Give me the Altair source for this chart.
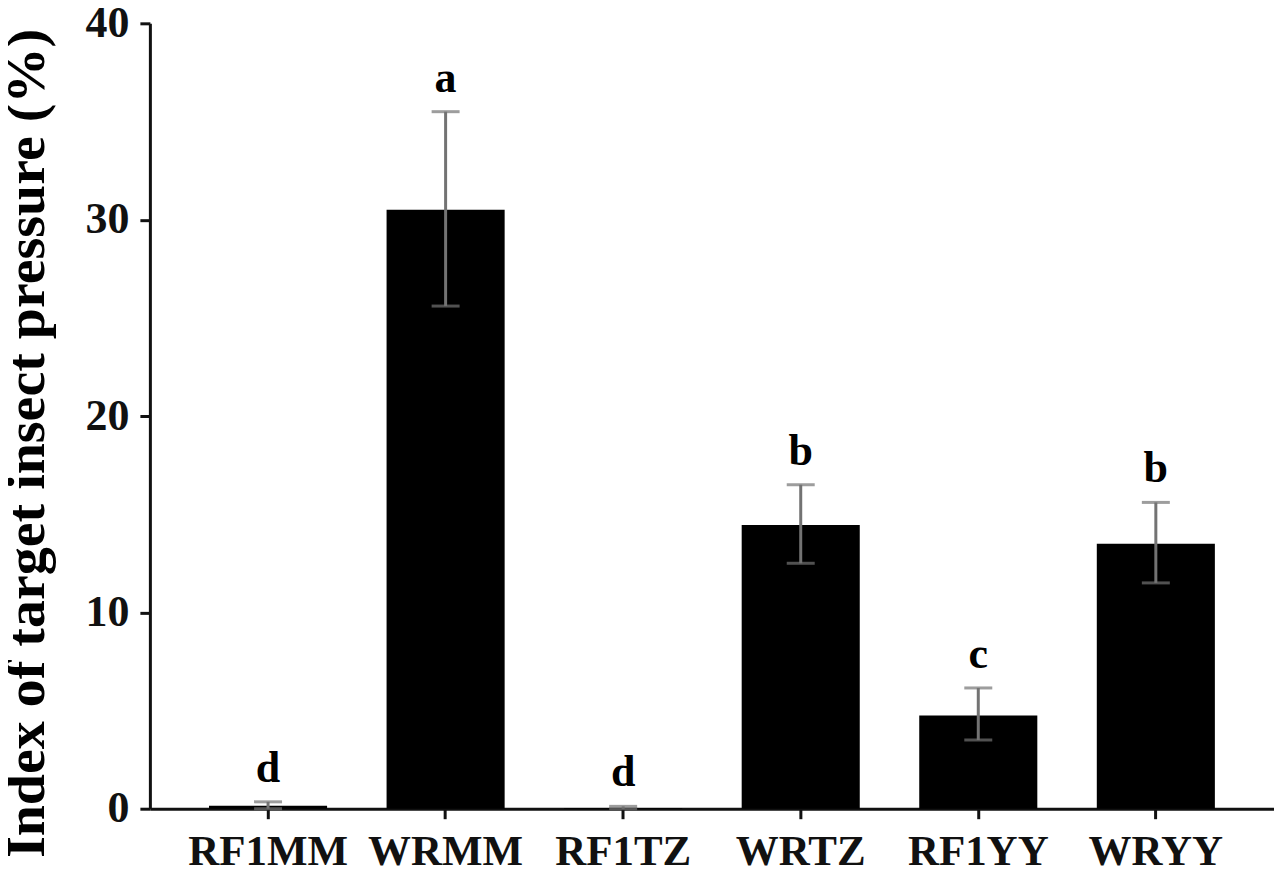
import altair as alt
import pandas as pd

groups = ["RF1MM", "WRMM", "RF1TZ", "WRTZ", "RF1YY", "WRYY"]
means = [0.15, 30.5, 0.03, 14.45, 4.75, 13.5]
err_low = [0.0, 25.6, 0.0, 12.5, 3.5, 11.5]
err_high = [0.35, 35.5, 0.12, 16.5, 6.15, 15.6]
letters = ["d", "a", "d", "b", "c", "b"]

df = pd.DataFrame({
    "group": groups,
    "mean": means,
    "lo": err_low,
    "hi": err_high,
    "letter": letters,
})

FONT = "Liberation Serif"
ERR = "#737373"

x_enc = alt.X(
    "group:N",
    sort=groups,
    scale=alt.Scale(paddingInner=0.335, paddingOuter=0.333),
    axis=alt.Axis(
        title=None,
        labelAngle=0,
        labelFont=FONT,
        labelFontSize=43,
        labelFontWeight="bold",
        labelColor="#111111",
        labelPadding=12,
        tickSize=10,
        tickWidth=3,
        tickColor="#111111",
        domainWidth=3,
        domainColor="#111111",
    ),
)
x_plain = alt.X("group:N", sort=groups)

y_scale = alt.Scale(domain=[0, 40], nice=False)

bars = alt.Chart(df).mark_bar(color="#000000").encode(
    x=x_enc,
    y=alt.Y(
        "mean:Q",
        scale=y_scale,
        axis=alt.Axis(
            title="Index of target insect pressure (%)",
            values=[0, 10, 20, 30, 40],
            grid=False,
            labelFont=FONT,
            labelFontSize=44,
            labelFontWeight="bold",
            labelColor="#111111",
            labelPadding=11,
            tickSize=10,
            tickWidth=3,
            tickColor="#111111",
            domainWidth=3,
            domainColor="#111111",
            titleFont=FONT,
            titleFontSize=56,
            titleFontWeight="bold",
            titleColor="#000000",
            titleAngle=270,
            titleBaseline="alphabetic",
            titleX=-106,
            titleY=420,
            titleAlign="center",
        ),
    ),
)

stems = alt.Chart(df).mark_rule(color=ERR, strokeWidth=3).encode(
    x=x_plain,
    y=alt.Y("lo:Q", scale=y_scale),
    y2="hi:Q",
)

caps_hi = alt.Chart(df).mark_tick(color=ERR, size=28, thickness=3).encode(
    x=x_plain,
    y=alt.Y("hi:Q", scale=y_scale),
)
caps_lo = alt.Chart(df).mark_tick(color=ERR, size=28, thickness=3).encode(
    x=x_plain,
    y=alt.Y("lo:Q", scale=y_scale),
)

texts = alt.Chart(df).mark_text(
    font=FONT,
    fontSize=44,
    fontWeight="bold",
    color="#000000",
    baseline="alphabetic",
    dy=-20,
).encode(
    x=x_plain,
    y=alt.Y("hi:Q", scale=y_scale),
    text="letter:N",
)

chart = alt.layer(bars, stems, caps_hi, caps_lo, texts).properties(
    width=1125,
    height=786,
    autosize=alt.AutoSizeParams(type="none"),
    padding={"left": 142, "top": 15, "right": 0, "bottom": 66},
).configure_view(stroke=None)

chart.save("out.html", embed_options={"renderer": "svg", "actions": False})
